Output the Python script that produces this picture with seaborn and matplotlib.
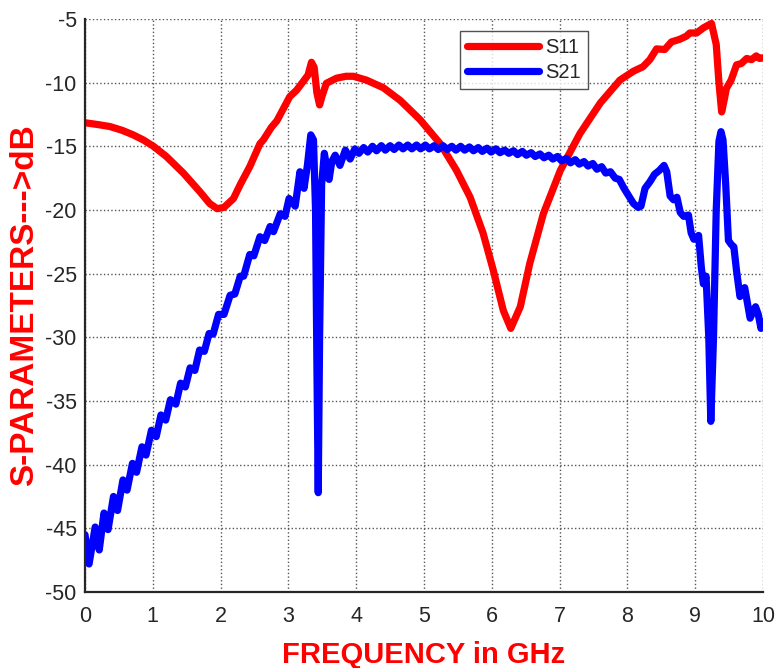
import pandas as pd
import seaborn as sns
import matplotlib.pyplot as plt

# S11 (GHz, dB)
s11_freq = [0.00, 0.20, 0.37, 0.55, 0.71, 0.86, 1.01, 1.20, 1.45, 1.70, 1.84, 1.95, 2.05,
            2.19, 2.29, 2.43, 2.58, 2.63, 2.75, 2.83, 2.92, 3.02, 3.12, 3.22, 3.29, 3.34,
            3.38, 3.42, 3.46, 3.50, 3.56, 3.71, 3.85, 3.96, 4.15, 4.40, 4.65, 4.94, 5.24,
            5.48, 5.68, 5.87, 6.02, 6.17, 6.28, 6.42, 6.56, 6.76, 7.01, 7.30, 7.60, 7.89,
            8.09, 8.23, 8.33, 8.43, 8.55, 8.65, 8.77, 8.87, 8.92, 9.02, 9.12, 9.24, 9.31,
            9.35, 9.39, 9.43, 9.46, 9.53, 9.61, 9.68, 9.76, 9.83, 9.90, 9.95, 10.00]
s11_db = [-13.15, -13.3, -13.45, -13.75, -14.1, -14.5, -15.0, -15.8, -17.1, -18.6, -19.5, -19.9, -19.8,
          -19.1, -18.0, -16.6, -14.8, -14.5, -13.5, -13.0, -12.1, -11.1, -10.6, -9.9, -9.4, -8.4,
          -8.8, -10.8, -11.75, -11.0, -10.05, -9.65, -9.5, -9.5, -9.8, -10.4, -11.4, -12.9, -14.8,
          -16.9, -19.0, -21.8, -24.7, -27.9, -29.3, -27.6, -24.2, -20.3, -16.9, -14.0, -11.6, -9.8,
          -9.1, -8.75, -8.2, -7.35, -7.4, -6.8, -6.6, -6.35, -6.1, -6.1, -5.7, -5.35, -7.0,
          -10.0, -12.3, -11.3, -10.45, -9.8, -8.6, -8.5, -8.1, -8.2, -7.9, -8.1, -8.05]

# S21 (GHz, dB)
s21_freq = [0.00, 0.06, 0.15, 0.21, 0.28, 0.34, 0.42, 0.48, 0.56, 0.62, 0.70, 0.76, 0.84,
            0.90, 0.98, 1.05, 1.12, 1.19, 1.26, 1.34, 1.41, 1.48, 1.55, 1.62, 1.69, 1.76,
            1.83, 1.89, 1.97, 2.05, 2.14, 2.21, 2.29, 2.34, 2.43, 2.49, 2.58, 2.65, 2.73,
            2.78, 2.88, 2.95, 3.01, 3.10, 3.17, 3.23, 3.28, 3.33, 3.37, 3.40, 3.42, 3.44,
            3.46, 3.49, 3.53, 3.57, 3.60, 3.64, 3.69, 3.76, 3.84, 3.91, 3.98, 4.04, 4.11,
            4.17, 4.24, 4.30, 4.37, 4.43, 4.50, 4.56, 4.63, 4.69, 4.76, 4.82, 4.89, 4.95,
            5.02, 5.08, 5.15, 5.21, 5.28, 5.34, 5.41, 5.47, 5.54, 5.60, 5.67, 5.73, 5.80,
            5.86, 5.93, 5.99, 6.06, 6.12, 6.19, 6.25, 6.32, 6.38, 6.45, 6.51, 6.58, 6.64,
            6.71, 6.77, 6.84, 6.90, 6.97, 7.03, 7.10, 7.16, 7.23, 7.29, 7.36, 7.42, 7.49,
            7.55, 7.62, 7.68, 7.75, 7.82, 7.88, 7.95, 8.02, 8.09, 8.16, 8.20, 8.26, 8.33,
            8.40, 8.47, 8.54, 8.58, 8.63, 8.68, 8.73, 8.78, 8.83, 8.90, 8.94, 8.98, 9.05,
            9.09, 9.12, 9.16, 9.20, 9.23, 9.27, 9.31, 9.35, 9.38, 9.41, 9.45, 9.49, 9.53,
            9.57, 9.61, 9.66, 9.70, 9.73, 9.77, 9.81, 9.85, 9.89, 9.93, 9.97, 10.00]
s21_db = [-45.5, -47.8, -44.9, -46.7, -43.8, -45.1, -42.5, -43.6, -41.2, -42.0, -39.9, -40.6, -38.6,
          -39.25, -37.3, -37.8, -36.1, -36.5, -34.9, -35.25, -33.6, -33.9, -32.4, -32.6, -31.0, -31.1,
          -29.7, -29.75, -28.2, -28.2, -26.7, -26.6, -25.2, -25.2, -23.5, -23.6, -22.1, -22.4, -21.3,
          -21.7, -20.3, -20.5, -19.1, -19.7, -17.0, -18.3, -16.5, -14.1, -14.5, -20.0, -32.0, -42.2,
          -30.0, -18.0, -15.55, -16.8, -17.6, -16.2, -15.7, -16.5, -15.3, -16.0, -15.2, -15.55, -15.1,
          -15.45, -15.0, -15.35, -14.95, -15.3, -14.95, -15.25, -14.9, -15.2, -14.9, -15.2, -14.9, -15.2,
          -14.9, -15.2, -14.95, -15.25, -14.95, -15.25, -15.0, -15.3, -15.0, -15.3, -15.05, -15.35, -15.1,
          -15.4, -15.15, -15.45, -15.2, -15.5, -15.3, -15.55, -15.35, -15.65, -15.4, -15.7, -15.5, -15.8,
          -15.6, -15.9, -15.7, -16.0, -15.8, -16.15, -15.95, -16.3, -16.05, -16.4, -16.2, -16.55, -16.35,
          -16.8, -16.6, -17.1, -17.0, -17.5, -17.6, -18.3, -18.9, -19.5, -19.8, -19.7, -18.3, -17.8,
          -17.2, -16.9, -16.5, -17.0, -18.9, -19.2, -19.0, -20.2, -20.5, -20.4, -21.8, -22.3, -22.0,
          -24.5, -25.8, -25.2, -30.0, -36.6, -30.0, -20.0, -14.6, -13.85, -14.5, -18.0, -22.4, -22.7,
          -22.9, -24.8, -26.8, -26.3, -26.1, -27.3, -28.5, -28.0, -27.6, -28.2, -29.3, -28.8]

x_ticks = list(range(0, 11))
y_ticks = list(range(-50, 0, 5))

sns.set_style("white")
plt.rcParams['font.family'] = ['Liberation Sans', 'DejaVu Sans']
plt.rcParams['axes.unicode_minus'] = False

fig = plt.figure(figsize=(7.77, 6.68), dpi=100)
ax = fig.add_axes([0.1094, 0.1138, 0.8726, 0.8578])

sns.lineplot(x=s11_freq, y=s11_db, sort=False, estimator=None, color='#ff0000',
             linewidth=5.2, label='S11', ax=ax)
sns.lineplot(x=s21_freq, y=s21_db, sort=False, estimator=None, color='#0000ff',
             linewidth=5.2, label='S21', ax=ax)

ax.set_xlim(0, 10)
ax.set_ylim(-50, -5)
ax.set_xticks(x_ticks)
ax.set_yticks(y_ticks)
ax.tick_params(direction='in', length=5, width=1.2, labelsize=15.5, colors='#262626',
               labelcolor='#262626')
ax.tick_params(axis='x', pad=10)
ax.tick_params(axis='y', pad=6)
ax.grid(True, linestyle=':', color='#555555', linewidth=1.0)
for side in ['top', 'right']:
    ax.spines[side].set_visible(False)
for side in ['left', 'bottom']:
    ax.spines[side].set_color('#262626')
    ax.spines[side].set_linewidth(1.6)

ax.set_xlabel('FREQUENCY in GHz', color='#ff0000', fontsize=21, fontweight='bold', labelpad=10)
ax.set_ylabel('S-PARAMETERS--->dB', color='#ff0000', fontsize=24, fontweight='bold', labelpad=4)

leg = ax.legend(loc='upper left', bbox_to_anchor=(0.553, 0.979), fontsize=14.5, frameon=True,
                fancybox=False, edgecolor='#262626', handlelength=3.6, borderpad=0.35,
                labelspacing=0.3, handletextpad=0.3, borderaxespad=0.0)
leg.get_frame().set_linewidth(1.0)

fig.savefig('out.png', dpi=100)
